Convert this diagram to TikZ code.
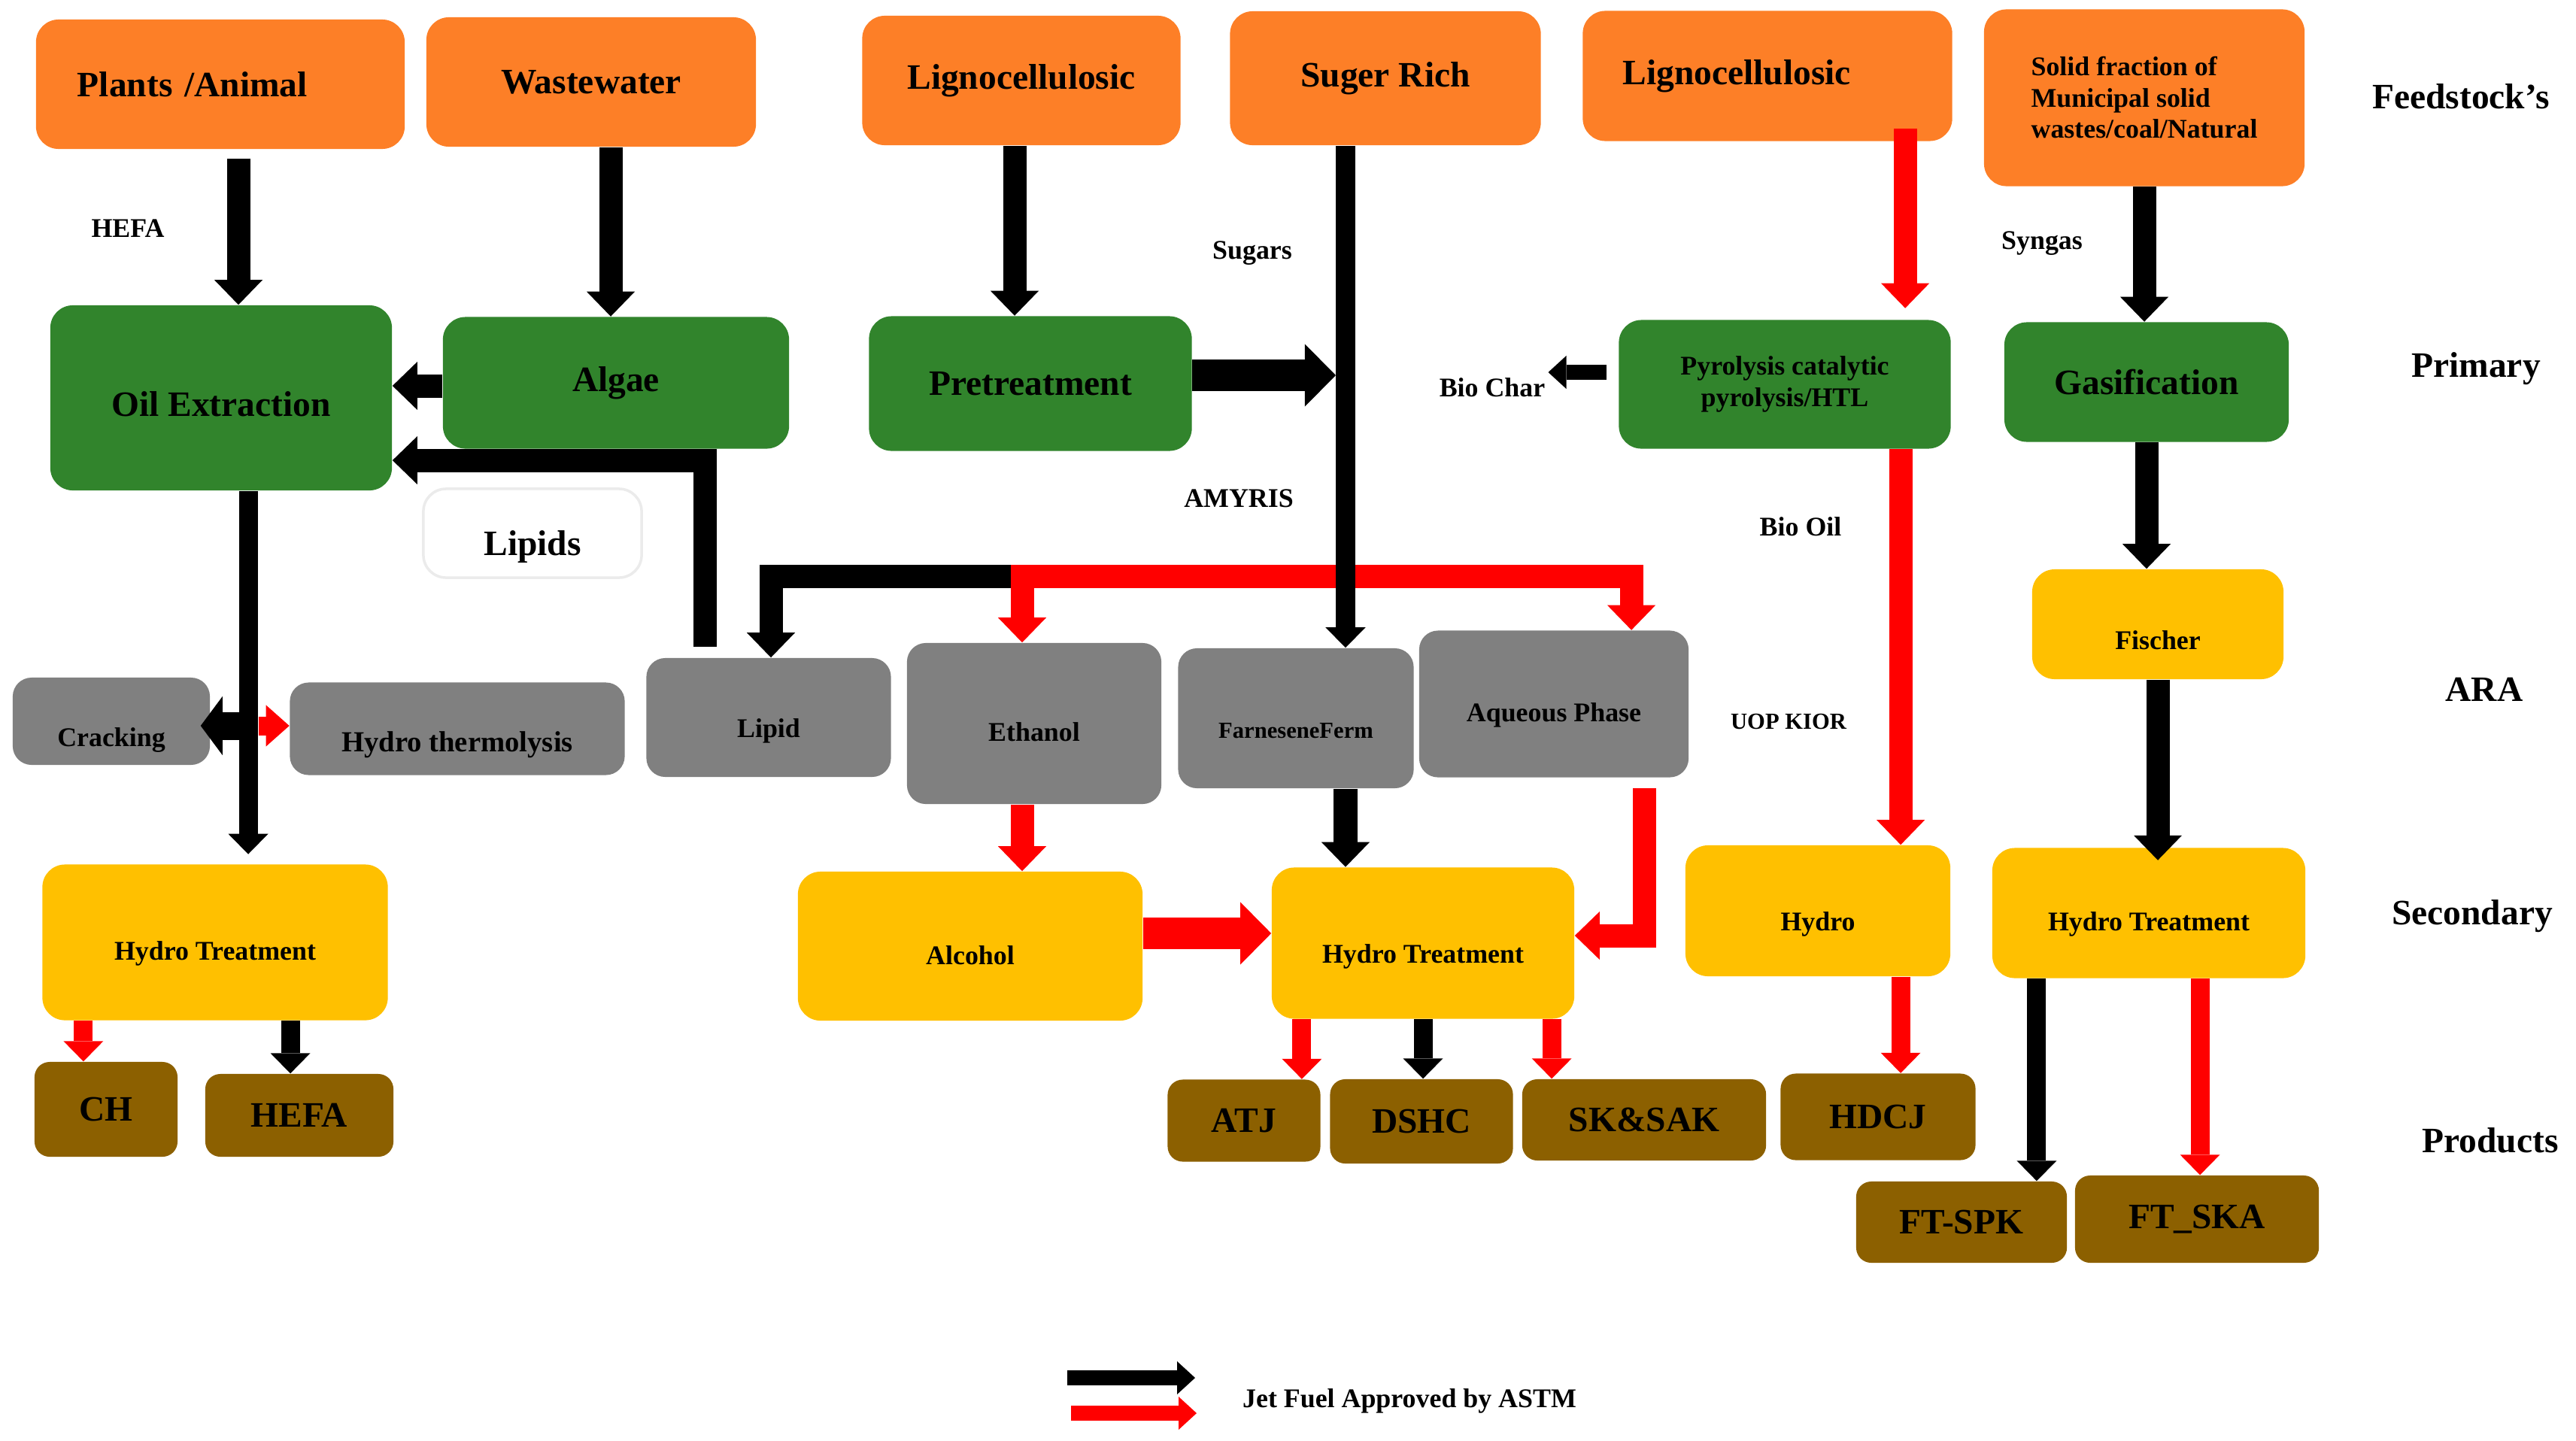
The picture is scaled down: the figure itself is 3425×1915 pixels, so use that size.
\documentclass[tikz,border=0pt]{standalone}
\usepackage{fontspec}
\setmainfont{Liberation Serif}
\usetikzlibrary{arrows.meta,positioning}

\definecolor{feedorange}{RGB}{253,127,39}
\definecolor{primgreen}{RGB}{49,132,44}
\definecolor{aragrey}{RGB}{128,128,128}
\definecolor{secyellow}{RGB}{255,192,0}
\definecolor{prodbrown}{RGB}{140,96,0}
\definecolor{flowred}{RGB}{255,0,0}

\newcommand{\bigtxt}{\bfseries\fontsize{13.5}{16}\selectfont}
\newcommand{\smalltxt}{\bfseries\fontsize{10.2}{11.8}\selectfont}
\newcommand{\minitxt}{\bfseries\fontsize{8.7}{10}\selectfont}

\begin{document}
\begin{tikzpicture}[x=0.01cm,y=-0.01cm,
    flow box/.style={rounded corners=3mm,inner sep=2pt,align=center,text=black},
    low text/.style={text height=#1,text depth=0pt},
    feed node/.style={flow box,fill=feedorange,font=\bigtxt},
    prim node/.style={flow box,fill=primgreen,font=\bigtxt},
    ara node/.style={flow box,fill=aragrey,rounded corners=2.5mm,font=\smalltxt,low text=15pt},
    sec node/.style={flow box,fill=secyellow,font=\smalltxt,low text=15pt},
    prod node/.style={flow box,fill=prodbrown,rounded corners=2mm,font=\bigtxt},
    path label/.style={font=\smalltxt,inner sep=1pt},
    stage label/.style={font=\bigtxt},
    black flow/.style={draw=black},
    red flow/.style={draw=flowred},
    fat arrow/.style={line width=4.1mm,-{Triangle[width=8.3mm,length=4.1mm,line width=0pt]}},
    mid arrow/.style={line width=3.1mm,-{Triangle[width=6.4mm,length=3.3mm,line width=0pt]}},
    mid both/.style={line width=3.1mm,{Triangle[width=6.4mm,length=3.3mm,line width=0pt]}-{Triangle[width=6.4mm,length=3.3mm,line width=0pt]}},
    small arrow/.style={line width=2.5mm,-{Triangle[width=5.3mm,length=2.7mm,line width=0pt]}},
    tiny arrow/.style={line width=2mm,-{Triangle[width=4.4mm,length=2.4mm,line width=0pt]}}]

  \useasboundingbox (0,0) rectangle (3425,1915);

  % feedstocks
  \node[feed node,minimum width=4.9cm,minimum height=1.72cm,align=left,inner xsep=5.5mm,text width=3.8cm] (plants) at (293,112) {Plants /Animal};
  \node[feed node,minimum width=4.38cm,minimum height=1.72cm] (waste) at (786,109) {Wastewater};
  \node[feed node,minimum width=4.23cm,minimum height=1.72cm] (ligA) at (1358,107) {Lignocellulosic};
  \node[feed node,minimum width=4.13cm,minimum height=1.78cm] (sugar) at (1842,104) {Suger Rich};
  \node[feed node,minimum width=4.91cm,minimum height=1.73cm,align=left,inner xsep=5.3mm,text width=3.85cm] (ligB) at (2350,101) {Lignocellulosic};
  \node[feed node,minimum width=4.26cm,minimum height=2.35cm,font=\smalltxt,align=left] (solid) at (2851,130) {Solid fraction of\\Municipal solid\\wastes/coal/Natural};

  % primary
  \node[prim node,minimum width=4.54cm,minimum height=2.46cm,low text=14pt] (oil) at (294,529) {Oil Extraction};
  \node[prim node,minimum width=4.6cm,minimum height=1.75cm] (algae) at (819,509) {Algae};
  \node[prim node,minimum width=4.29cm,minimum height=1.79cm] (pretreat) at (1370,510) {Pretreatment};
  \node[prim node,minimum width=4.41cm,minimum height=1.71cm,font=\smalltxt] (pyro) at (2373,511) {Pyrolysis catalytic\\pyrolysis/HTL};
  \node[prim node,minimum width=3.78cm,minimum height=1.59cm] (gasif) at (2854,508) {Gasification};
  \node[flow box,draw=black!8,line width=1pt,fill=white,minimum width=2.9cm,minimum height=1.18cm,font=\bigtxt,low text=17pt] (lipids) at (708,709) {Lipids};

  % ARA
  \node[ara node,minimum width=2.62cm,minimum height=1.16cm,low text=19pt] (crack) at (148,959) {Cracking};
  \node[ara node,minimum width=4.45cm,minimum height=1.23cm,font=\bfseries\fontsize{11}{13}\selectfont,low text=17.5pt] (hthermo) at (608,969) {Hydro thermolysis};
  \node[ara node,minimum width=3.25cm,minimum height=1.58cm] (lipid) at (1022,954) {Lipid};
  \node[ara node,minimum width=3.38cm,minimum height=2.14cm,low text=13.5pt] (ethanol) at (1375,962) {Ethanol};
  \node[ara node,minimum width=3.13cm,minimum height=1.86cm,font=\minitxt] (farn) at (1723,955) {FarneseneFerm};
  \node[ara node,minimum width=3.58cm,minimum height=1.95cm,low text=13.5pt] (aqueous) at (2066,936) {Aqueous Phase};
  \node[sec node,minimum width=3.34cm,minimum height=1.46cm,low text=19pt] (fischer) at (2869,830) {Fischer};

  % secondary
  \node[sec node,minimum width=4.59cm,minimum height=2.07cm,low text=13.5pt] (htA) at (286,1253) {Hydro Treatment};
  \node[sec node,minimum width=4.58cm,minimum height=1.98cm,low text=14pt] (alcohol) at (1290,1258) {Alcohol};
  \node[sec node,minimum width=4.02cm,minimum height=2.01cm] (htB) at (1892,1254) {Hydro Treatment};
  \node[sec node,minimum width=3.52cm,minimum height=1.74cm] (hydro) at (2417,1211) {Hydro};
  \node[sec node,minimum width=4.16cm,minimum height=1.73cm,low text=13.5pt] (htC) at (2857,1214) {Hydro Treatment};

  % products
  \node[prod node,minimum width=1.9cm,minimum height=1.26cm] (ch) at (141,1475) {CH};
  \node[prod node,minimum width=2.5cm,minimum height=1.1cm] (hefa) at (398,1483) {HEFA};
  \node[prod node,minimum width=2.03cm,minimum height=1.09cm] (atj) at (1654,1490) {ATJ};
  \node[prod node,minimum width=2.43cm,minimum height=1.12cm] (dshc) at (1890,1491) {DSHC};
  \node[prod node,minimum width=3.24cm,minimum height=1.08cm] (sksak) at (2186,1489) {SK\&SAK};
  \node[prod node,minimum width=2.59cm,minimum height=1.15cm] (hdcj) at (2497,1485) {HDCJ};
  \node[prod node,minimum width=2.8cm,minimum height=1.08cm] (ftspk) at (2608,1625) {FT-SPK};
  \node[prod node,minimum width=3.24cm,minimum height=1.16cm] (ftska) at (2921,1621) {FT\_SKA};

  % path labels
  \node[path label] (hefaL) at (170,304) {HEFA};
  \node[path label] (sugars) at (1665,337) {Sugars};
  \node[path label] (amyris) at (1647,663) {AMYRIS};
  \node[path label] (biochar) at (1984,515) {Bio Char};
  \node[path label] (syngas) at (2715,324) {Syngas};
  \node[path label] (biooil) at (2394,700) {Bio Oil};
  \node[path label,font=\minitxt] (uop) at (2378,960) {UOP KIOR};

  % stages
  \node[stage label] (sFeed) at (3272,128) {Feedstock’s};
  \node[stage label] (sPrim) at (3292,490) {Primary};
  \node[stage label] (sAra) at (3303,917) {ARA};
  \node[stage label] (sSec) at (3287,1218) {Secondary};
  \node[stage label] (sProd) at (3311,1516) {Products};

  % HEFA route
  \draw[black flow,mid arrow,shorten <=1.2mm] ([xshift=2.4mm]plants.south) -- ([xshift=2.4mm]plants.south |- oil.north);
  \draw[black flow,mid arrow] ([xshift=2.6mm]waste.south) -- ([xshift=2.6mm]waste.south |- algae.north);
  \draw[black flow,mid arrow] ([yshift=-0.4mm]algae.west) -- ([yshift=-0.4mm]algae.west -| oil.east);
  \draw[black flow,mid arrow,shorten <=1.4mm] ([xshift=-8.4mm]lipid.north) |- ([yshift=-8.3mm]oil.east);
  \coordinate (oline) at ([xshift=3.6mm]oil.south);
  \draw[black flow,line width=3.7mm,-{Triangle[width=7.8mm,length=2.9mm,line width=0pt]},shorten >=-1.3mm] ([yshift=-0.6mm]crack.east -| oline) -- ([yshift=-0.6mm]crack.east);
  \draw[red flow,line width=2.5mm,-{Triangle[width=5.5mm,length=3.1mm,line width=0pt]},shorten <=1.4mm] ([yshift=0.4mm]hthermo.west -| oline) -- ([yshift=0.4mm]hthermo.west);
  \draw[black flow,small arrow,shorten >=1.3mm] (oline) -- (oline |- htA.north);
  \draw[red flow,small arrow] ([xshift=-17.5mm]htA.south) -- ([xshift=-17.5mm]htA.south |- ch.north);
  \draw[black flow,small arrow] ([xshift=10mm]htA.south) -- ([xshift=10mm]htA.south |- hefa.north);

  % sugar and alcohol routes
  \draw[black flow,mid arrow] ([xshift=-0.9mm]ligA.south) -- ([xshift=-0.9mm]ligA.south |- pretreat.north);
  \coordinate (sline) at ([xshift=-5.3mm]sugar.south);
  \coordinate (bus) at ([xshift=-1.6mm,yshift=8.8mm]ethanol.north);
  \draw[black flow,mid arrow] (bus) -| ([xshift=0.3mm]lipid.north);
  \draw[red flow,mid both] (bus |- ethanol.north) -- (bus) -| ([xshift=10.3mm]aqueous.north);
  \draw[black flow,fat arrow,shorten >=1.3mm] ([yshift=1.1mm]pretreat.east) -- ([yshift=1.1mm]pretreat.east -| sline);
  \draw[black flow,small arrow] (sline) -- (sline |- farn.north);
  \draw[red flow,mid arrow] (bus |- ethanol.south) -- (bus |- alcohol.north);
  \draw[black flow,mid arrow] (sline |- farn.south) -- (sline |- htB.north);
  \draw[red flow,fat arrow] ([yshift=1.7mm]alcohol.east) -- ([yshift=1.7mm]alcohol.east -| htB.west);
  \draw[red flow,mid arrow,shorten <=1.4mm] ([xshift=12mm]aqueous.south) |- ([yshift=1mm]htB.east);
  \draw[red flow,small arrow] ([xshift=-16.1mm]htB.south) -- ([xshift=-16.1mm]htB.south |- atj.north);
  \draw[black flow,small arrow] (htB.south) -- (htB.south |- dshc.north);
  \draw[red flow,small arrow] ([xshift=17.1mm]htB.south) -- ([xshift=17.1mm]htB.south |- sksak.north);

  % pyrolysis route
  \draw[red flow,mid arrow,shorten <=-1.7mm,shorten >=1.5mm] ([xshift=18.3mm]ligB.south) -- ([xshift=18.3mm]ligB.south |- pyro.north);
  \draw[black flow,tiny arrow,shorten <=1.6mm] ([yshift=1.6mm]pyro.west) -- ([yshift=1.6mm]pyro.west -| biochar.east);
  \draw[red flow,mid arrow] ([xshift=15.4mm]pyro.south) -- ([xshift=15.4mm]pyro.south |- hydro.north);
  \draw[red flow,small arrow] ([xshift=11mm]hydro.south) -- ([xshift=11mm]hydro.south |- hdcj.north);

  % gasification route
  \draw[black flow,mid arrow] (solid.south) -- (solid.south |- gasif.north);
  \draw[black flow,mid arrow] (gasif.south) -- (gasif.south |- fischer.north);
  \draw[black flow,mid arrow,shorten >=-1.7mm] (fischer.south) -- (fischer.south |- htC.north);
  \draw[black flow,small arrow] ([xshift=-14.9mm]htC.south) -- ([xshift=-14.9mm]htC.south |- ftspk.north);
  \draw[red flow,small arrow] ([xshift=6.8mm]htC.south) -- ([xshift=6.8mm]htC.south |- ftska.north);

  % legend
  \coordinate (keyA) at (1419,1832);
  \coordinate (keyB) at (1424,1879);
  \draw[black flow,tiny arrow] (keyA) -- ++(170,0);
  \draw[red flow,tiny arrow] (keyB) -- ++(167,0);
  \node[path label] (key) at (1874,1863) {Jet Fuel Approved by ASTM};
\end{tikzpicture}
\end{document}
